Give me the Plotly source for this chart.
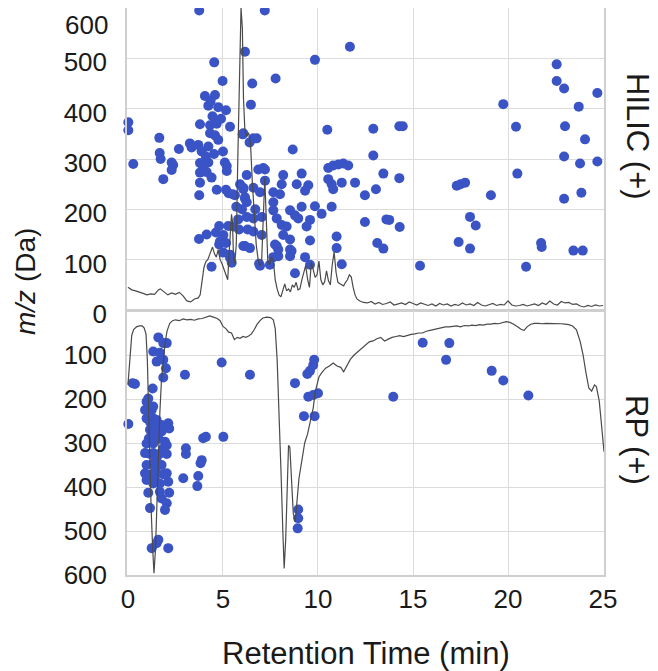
import plotly.graph_objects as go
from plotly.subplots import make_subplots

# ---------------- data ----------------
hilic_rt = [3.75, 7.2, 6.16, 11.68, 9.84, 4.54, 4.98, 6.54, 7.77, 6.47,
            0.02, 0.02, 0.28, 1.65, 1.67, 1.72, 1.86, 2.3, 2.38, 2.3, 2.68,
            3.26, 3.35, 3.7, 3.79, 3.75, 3.74, 4.4,
            4.05, 4.58, 4.23, 4.75, 5.16, 4.32, 4.67, 5.37, 4.32, 4.58, 4.75,
            3.88, 4.23, 4.53, 4.1, 3.79, 4.23, 5.1, 5.2, 3.79, 4.14, 4.4, 5.2,
            3.79, 4.67, 5.16, 5.51, 6.07, 6.16, 4.8, 5.28, 4.63, 5.02, 5.54,
            4.8, 5.16, 5.02, 5.37, 5.46, 6.16, 4.14, 4.84, 5.37, 5.63,
            10.49, 6.07, 6.6, 6.77, 8.67, 6.86, 7.12, 7.21, 6.25, 8.17, 9.14,
            10.54, 10.8, 11.07, 11.33, 11.59, 7.21, 8.09, 8.88, 9.49, 9.32,
            10.54, 10.72, 10.8, 11.25, 11.95, 12.47,
            6.07, 6.6, 6.95, 6.16, 6.25, 7.65, 8.0, 7.65,
            8.53, 9.14, 9.84, 10.19, 10.72, 8.79, 8.96, 9.58, 9.4,
            6.25, 6.6, 7.04, 7.65, 7.83, 8.09, 8.35,
            6.6, 7.04, 8.17, 8.53, 9.58, 10.98, 10.98, 6.07, 6.42,
            7.83, 8.61, 8.53, 7.91, 7.65, 6.95, 7.47, 9.32, 9.58, 11.25, 8.79,
            7.74, 7.91, 8.53, 6.04, 5.9, 6.0, 5.8, 6.4, 6.9,
            4.45, 4.9, 5.0, 3.95, 4.35, 5.3, 5.7, 5.85, 6.3, 6.7,
            22.56, 22.56, 22.95, 24.7, 19.75, 23.72, 12.91, 14.28, 14.46, 20.42,
            23.0, 24.05, 12.91, 22.95, 23.79, 24.7, 13.44, 14.28, 20.49, 13.05,
            17.3, 17.5, 17.74, 19.1, 22.95, 23.86, 12.47, 13.6, 13.75, 14.3,
            18.0, 18.3, 13.12, 13.44, 17.4, 18.0, 21.74, 21.77, 23.44, 23.93,
            15.37, 20.95]
hilic_mz = [595, 595, 513, 523, 497, 492, 455, 450, 460, 408,
            373, 357, 290, 342, 312, 300, 260, 293, 288, 278, 320,
            331, 323, 328, 369, 228, 141, 86,
            425, 427, 406, 403, 397, 367, 370, 364, 351, 347, 338,
            315, 325, 310, 305, 292, 293, 293, 286, 273, 274, 263, 276,
            253, 239, 239, 230, 240, 221, 167, 167, 154, 149, 166,
            130, 133, 114, 104, 94, 127, 150, 136, 110, 228,
            358, 351, 341, 341, 319, 279, 282, 279, 268, 268, 271,
            282, 287, 289, 291, 287, 257, 250, 250, 248, 237,
            260, 250, 240, 253, 253, 228,
            243, 243, 234, 224, 214, 234, 230, 214,
            198, 205, 206, 191, 205, 188, 182, 179, 166,
            185, 182, 185, 198, 182, 169, 166,
            156, 149, 149, 140, 138, 146, 123, 127, 123,
            127, 117, 107, 107, 105, 88, 90, 105, 90, 91, 73,
            130, 120, 120, 349, 250, 200, 180, 333, 92,
            385, 380, 315, 285, 415, 232, 205, 160, 160, 200,
            488, 455, 440, 431, 409, 404, 360, 365, 365, 364,
            365, 339, 307, 305, 291, 295, 271, 262, 271, 240,
            247, 250, 253, 228, 221, 233, 175, 180, 179, 165,
            185, 168, 133, 122, 135, 122, 133, 125, 118, 118,
            88, 86]

rp_rt = [1.6, 2.04, 1.86, 1.33, 1.68, 1.51, 1.86, 2.0, 1.86, 4.93, 3.0, 6.42,
         0.25, 0.37, 8.79, 9.8, 9.75, 9.58, 9.44, 9.49, 9.75, 10.0, 9.26, 9.82,
         0.02, 3.96, 4.1, 5.02, 3.05, 3.05, 3.88, 3.82, 2.91, 3.7, 3.65,
         8.96, 8.96, 8.93, 2.12, 1.25, 1.51, 1.6,
         1.3, 1.07, 0.98, 0.9, 1.25, 1.33, 0.98, 1.16, 1.33, 1.51, 1.77, 2.12,
         2.17, 1.77, 1.51, 1.16, 1.25, 1.33, 0.98, 1.95, 2.04, 1.86, 0.9, 1.16,
         1.33, 1.65, 2.04, 0.98, 1.33, 1.77, 0.9, 1.16, 1.42, 1.86, 2.04, 0.98,
         1.33, 1.68, 2.12, 1.07, 1.68, 2.17, 1.77, 2.04, 1.95, 1.16, 1.4, 1.6,
         1.1, 1.5, 1.45,
         15.51, 16.91, 16.74, 19.14, 19.75, 13.96, 21.07]
rp_mz = [60, 73, 73, 92, 95, 115, 111, 130, 151, 117, 145, 145,
         164, 166, 164, 111, 123, 136, 143, 195, 191, 187, 239, 239,
         257, 289, 286, 286, 312, 325, 339, 346, 380, 375, 398,
         451, 471, 494, 539, 539, 528, 520,
         176, 199, 206, 225, 225, 217, 244, 252, 244, 248, 259, 255,
         267, 274, 267, 270, 286, 301, 301, 297, 305, 312, 323, 325,
         323, 325, 325, 350, 346, 350, 369, 373, 377, 371, 369, 384,
         392, 392, 388, 413, 411, 413, 426, 437, 452, 448, 280, 290,
         290, 335, 360,
         72, 73, 111, 136, 158, 195, 192]

hilic_tic_rt = [0.0, 0.2, 0.4, 0.6, 0.8, 1.0, 1.2, 1.4, 1.6, 1.7, 1.9, 2.1, 2.3, 2.5,
                2.7, 2.9, 3.1, 3.3, 3.5, 3.7, 3.8, 3.9, 4.0, 4.1, 4.2, 4.3, 4.45, 4.55,
                4.65, 4.75, 4.85, 4.95, 5.05, 5.15, 5.25, 5.35, 5.45, 5.5, 5.55, 5.62,
                5.7, 5.78, 5.86, 5.95, 6.02, 6.08, 6.15, 6.25, 6.35, 6.45, 6.55, 6.65,
                6.75, 6.85, 6.95, 7.03, 7.12, 7.2, 7.28, 7.36, 7.45, 7.55, 7.65, 7.75,
                7.85, 7.95, 8.05, 8.15, 8.25, 8.35, 8.45, 8.55, 8.65, 8.75, 8.85, 8.95,
                9.05, 9.15, 9.25, 9.35, 9.45, 9.55, 9.65, 9.75, 9.85, 9.95, 10.05,
                10.15, 10.25, 10.35, 10.45, 10.55, 10.65, 10.75, 10.85, 10.95, 11.05,
                11.15, 11.25, 11.35, 11.45, 11.55, 11.65, 11.75, 11.85, 11.95, 12.05,
                12.2, 12.4, 12.6, 12.8, 13.0, 13.2, 13.4, 13.6, 13.8, 14.0, 14.2, 14.4,
                14.6, 14.8, 15.0, 15.2, 15.4, 15.6, 15.8, 16.0, 16.2, 16.4, 16.6, 16.8,
                17.0, 17.2, 17.4, 17.6, 17.8, 18.0, 18.2, 18.4, 18.6, 18.8, 19.0, 19.2,
                19.4, 19.6, 19.8, 20.0, 20.2, 20.4, 20.6, 20.8, 21.0, 21.2, 21.4, 21.6,
                21.8, 22.0, 22.2, 22.4, 22.6, 22.8, 23.0, 23.2, 23.4, 23.6, 23.8, 24.0,
                24.2, 24.4, 24.6, 24.8, 25.0]
hilic_tic = [45, 40, 38, 36, 33, 30, 32, 31, 40, 42, 36, 30, 34, 31,
             35, 28, 18, 16, 22, 24, 30, 60, 85, 96, 100, 110, 125, 112,
             105, 120, 100, 92, 80, 70, 60, 130, 190, 175, 110, 92,
             130, 300, 480, 600, 560, 420, 360, 345, 352, 330, 250, 180,
             130, 100, 88, 92, 180, 262, 180, 95, 90, 105, 98, 60,
             42, 30, 26, 40, 52, 38, 42, 36, 50, 45, 55, 40,
             42, 60, 75, 88, 62, 45, 95, 80, 65, 70, 97,
             60, 50, 56, 78, 58, 50, 90, 115, 75, 55,
             52, 50, 48, 55, 60, 70, 66, 45, 30, 22,
             18, 15, 14, 17, 12, 15, 11, 13, 16, 10, 12, 14,
             11, 16, 13, 10, 14, 11, 9, 12, 8, 13, 10, 12,
             8, 11, 9, 14, 10, 12, 9, 15, 10, 8, 11, 13,
             9, 11, 10, 18, 10, 8, 9, 11, 8, 10, 12, 9,
             14, 11, 18, 12, 10, 17, 14, 15, 11, 12, 8, 6,
             9, 7, 10, 8, 9]

rp_tic_rt = [0.0, 0.1, 0.2, 0.3, 0.45, 0.6, 0.75, 0.85, 0.95, 1.02, 1.08, 1.15, 1.22,
             1.3, 1.37, 1.45, 1.52, 1.6, 1.68, 1.76, 1.86, 1.96, 2.06, 2.2, 2.35, 2.5,
             2.7, 2.9, 3.1, 3.3, 3.5, 3.7, 3.9, 4.1, 4.3, 4.5, 4.7, 4.85, 5.0, 5.15,
             5.3, 5.45, 5.6, 5.75, 5.9, 6.05, 6.2, 6.35, 6.5, 6.65, 6.8, 6.95, 7.1,
             7.3, 7.5, 7.65, 7.75, 7.85, 7.95, 8.05, 8.15, 8.22, 8.3, 8.38, 8.45,
             8.52, 8.6, 8.7, 8.8, 8.9, 9.0, 9.15, 9.3, 9.45, 9.6, 9.75, 9.85, 9.95,
             10.05, 10.2, 10.4, 10.6, 10.8, 11.0, 11.2, 11.35, 11.5, 11.7, 11.9, 12.1,
             12.3, 12.5, 12.7, 12.9, 13.1, 13.3, 13.5, 13.7, 13.9, 14.1, 14.3, 14.5,
             14.7, 14.9, 15.1, 15.3, 15.5, 15.7, 15.9, 16.1, 16.3, 16.5, 16.7, 16.9,
             17.1, 17.3, 17.5, 17.7, 17.9, 18.1, 18.3, 18.5, 18.7, 18.9, 19.1, 19.3,
             19.5, 19.7, 19.9, 20.1, 20.3, 20.5, 20.7, 20.85, 21.0, 21.2, 21.4, 21.6,
             21.8, 22.0, 22.2, 22.4, 22.6, 22.8, 23.0, 23.2, 23.4, 23.6, 23.8, 23.95,
             24.1, 24.25, 24.4, 24.55, 24.65, 24.8, 24.9, 25.0, 25.05]
rp_tic = [168, 100, 55, 42, 36, 34, 34, 38, 52, 110, 220, 330, 450,
          540, 596, 540, 440, 330, 230, 160, 110, 70, 45, 28, 22, 20,
          22, 18, 20, 19, 21, 18, 17, 14, 11, 14, 17, 22, 35, 40,
          48, 50, 65, 60, 62, 58, 60, 57, 52, 42, 30, 22, 16,
          14, 15, 20, 40, 110, 220, 360, 500, 585, 520, 400, 305,
          310, 380, 460, 480, 430, 380, 340, 300, 280, 250, 220, 185, 165,
          150, 140, 130, 125, 118, 125, 128, 138, 125, 110, 100, 92,
          85, 76, 70, 68, 63, 60, 68, 64, 60, 58, 56, 58,
          55, 53, 52, 50, 50, 46, 44, 42, 40, 38, 36, 36,
          35, 34, 36, 33, 34, 32, 33, 31, 32, 30, 30, 28,
          29, 26, 24, 26, 30, 36, 42, 44, 36, 30, 28, 28,
          29, 28, 28, 29, 28, 29, 30, 31, 34, 43, 70, 100,
          140, 175, 182, 168, 172, 205, 250, 300, 320]

x_ticks = [0, 5, 10, 15, 20, 25]
top_ticks = [0, 100, 200, 300, 400, 500]
bottom_ticks = [100, 200, 300, 400, 500, 600]

# ---------------- figure ----------------
DOT = "#3A54C6"
LINE = "#4a4a4a"
GRID = "#dcdcdc"
FONT = "Liberation Sans, Arial, sans-serif"
TXT = "#1a1a1a"

# The page body adds an 8 px margin, so the figure is sized to fill the rest.
W, H = 650, 663
L, R, T, B = 119, 54, 0, 96          # plot area: x 119..596, y 0..567

fig = make_subplots(rows=2, cols=1, shared_xaxes=True, vertical_spacing=0.002)

fig.add_trace(go.Scatter(x=hilic_rt, y=hilic_mz, mode="markers",
                         marker=dict(size=10, color=DOT), cliponaxis=False,
                         showlegend=False), row=1, col=1)
fig.add_trace(go.Scatter(x=hilic_tic_rt, y=hilic_tic, mode="lines",
                         line=dict(color=LINE, width=1.2), showlegend=False),
              row=1, col=1)
fig.add_trace(go.Scatter(x=rp_rt, y=rp_mz, mode="markers",
                         marker=dict(size=10, color=DOT), cliponaxis=False,
                         showlegend=False), row=2, col=1)
fig.add_trace(go.Scatter(x=rp_tic_rt, y=rp_tic, mode="lines",
                         line=dict(color=LINE, width=1.2), showlegend=False),
              row=2, col=1)

axis_common = dict(showgrid=True, gridcolor=GRID, gridwidth=1,
                   showline=True, linecolor="#cfcfcf", linewidth=1.5, mirror=True,
                   zeroline=False, ticks="", automargin=False,
                   tickfont=dict(family=FONT, size=26, color=TXT))

fig.update_xaxes(**axis_common, range=[-0.05, 25.05], tickvals=x_ticks,
                 ticklabelstandoff=0)
fig.update_xaxes(showticklabels=False, row=1, col=1)
fig.update_yaxes(**axis_common)
fig.update_layout(
    yaxis=dict(domain=[1 - 302 / 567, 1.0], range=[0, 600], tickvals=top_ticks,
               ticklabelstandoff=13, ticklabelshift=4),
    yaxis2=dict(domain=[0.0, 264 / 567], range=[600, 0], tickvals=bottom_ticks,
                ticklabelstandoff=13),
)

annotations = [
    dict(text="600", xref="paper", yref="y", x=0, y=600, xanchor="right",
         yanchor="top", xshift=-17, yshift=0, showarrow=False,
         font=dict(family=FONT, size=26, color=TXT)),
    dict(text="<i>m/z</i> (Da)", xref="paper", yref="paper", x=0, y=0.5,
         showarrow=False, textangle=-90, xanchor="center", yanchor="middle",
         xshift=17 - L, yshift=567 / 2 - 274,
         font=dict(family=FONT, size=28, color=TXT)),
    dict(text="HILIC (+)", xref="paper", yref="paper", x=1, y=1,
         showarrow=False, textangle=90, xanchor="center", yanchor="middle",
         xshift=630 - (W - R), yshift=-128,
         font=dict(family=FONT, size=31, color=TXT)),
    dict(text="RP (+)", xref="paper", yref="paper", x=1, y=0,
         showarrow=False, textangle=90, xanchor="center", yanchor="middle",
         xshift=629 - (W - R), yshift=567 - 432,
         font=dict(family=FONT, size=31, color=TXT)),
    dict(text="Retention Time (min)", xref="paper", yref="paper", x=0.5, y=0,
         showarrow=False, xanchor="center", yanchor="middle",
         xshift=0, yshift=-(645 - 567),
         font=dict(family=FONT, size=31, color=TXT)),
]

fig.update_layout(
    width=W, height=H,
    margin=dict(l=L, r=R, t=T, b=B, pad=0, autoexpand=False),
    paper_bgcolor="white", plot_bgcolor="white",
    annotations=annotations,
)

fig.write_html("out.html")
